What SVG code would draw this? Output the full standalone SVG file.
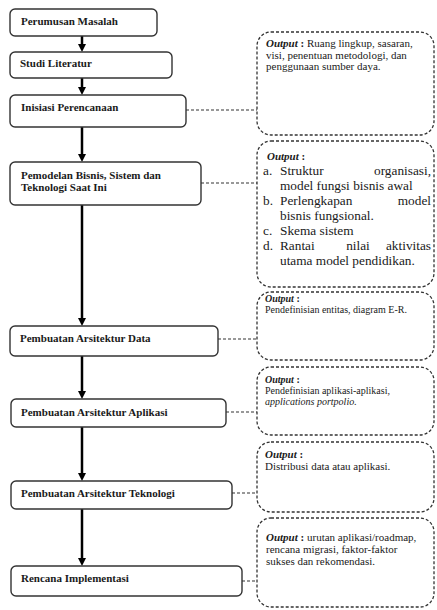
<svg xmlns="http://www.w3.org/2000/svg" width="437" height="610" viewBox="0 0 437 610">
<style>
.step{fill:#fff;stroke:#333;stroke-width:1.4}
.out{fill:#fff;stroke:#333;stroke-width:1.3;stroke-dasharray:3 2}
.lbl{font-family:"Liberation Serif",serif;font-weight:bold;font-size:11px;fill:#1a1a1a}
.txt{font-family:"Liberation Serif",serif;font-size:11px;fill:#1a1a1a}
.sm{font-size:10px}
.lst{font-family:"Liberation Serif",serif;font-size:13.3px;fill:#1a1a1a}
.bi{font-weight:bold;font-style:italic}
.b{font-weight:bold}
.arr{stroke:#000;stroke-width:2.5;fill:none}
.dash{stroke:#333;stroke-width:1.2;stroke-dasharray:3 2;fill:none}
</style>
<defs>
<marker id="ah" viewBox="0 0 8 8" refX="2" refY="4" markerWidth="8" markerHeight="8" markerUnits="userSpaceOnUse" orient="auto">
<path d="M0,0 L8,4 L0,8 z" fill="#000"/>
</marker>
</defs>
<g id="connectors">
<line class="arr" x1="82" y1="36" x2="82" y2="46" marker-end="url(#ah)"/>
<line class="arr" x1="82" y1="78" x2="82" y2="89" marker-end="url(#ah)"/>
<line class="arr" x1="82" y1="127" x2="82" y2="156" marker-end="url(#ah)"/>
<line class="arr" x1="82" y1="205" x2="82" y2="320" marker-end="url(#ah)"/>
<line class="arr" x1="82" y1="356" x2="82" y2="393" marker-end="url(#ah)"/>
<line class="arr" x1="82" y1="427" x2="82" y2="475" marker-end="url(#ah)"/>
<line class="arr" x1="82" y1="509" x2="82" y2="560" marker-end="url(#ah)"/>
<line class="dash" x1="186" y1="110" x2="257" y2="110"/>
<line class="dash" x1="201" y1="183" x2="257" y2="183"/>
<line class="dash" x1="218" y1="339" x2="257" y2="339"/>
<line class="dash" x1="226" y1="412" x2="257" y2="412"/>
<line class="dash" x1="232" y1="493" x2="257" y2="493"/>
<line class="dash" x1="242" y1="581" x2="257" y2="581"/>
</g>
<g id="n1"><rect class="step" x="10" y="9" width="147" height="27" rx="5"/><text class="lbl" x="21" y="25">Perumusan Masalah</text></g>
<g id="n2"><rect class="step" x="10" y="52" width="162" height="26" rx="5"/><text class="lbl" x="20" y="67">Studi Literatur</text></g>
<g id="n3"><rect class="step" x="10" y="95" width="176" height="32" rx="5"/><text class="lbl" x="21" y="111">Inisiasi Perencanaan</text></g>
<g id="n4"><rect class="step" x="10" y="162" width="191" height="43" rx="5"/><text class="lbl" x="21" y="179">Pemodelan Bisnis, Sistem dan</text><text class="lbl" x="21" y="191">Teknologi Saat Ini</text></g>
<g id="n5"><rect class="step" x="10" y="326" width="208" height="30" rx="5"/><text class="lbl" x="20" y="342">Pembuatan Arsitektur Data</text></g>
<g id="n6"><rect class="step" x="11" y="399" width="215" height="28" rx="5"/><text class="lbl" x="21" y="416">Pembuatan Arsitektur Aplikasi</text></g>
<g id="n7"><rect class="step" x="11" y="481" width="221" height="28" rx="5"/><text class="lbl" x="21" y="497">Pembuatan Arsitektur Teknologi</text></g>
<g id="n8"><rect class="step" x="11" y="566" width="231" height="30" rx="5"/><text class="lbl" x="21" y="582">Rencana Implementasi</text></g>
<g id="o1"><rect class="out" x="257" y="32" width="177" height="103" rx="14"/>
<text class="txt" x="266" y="47"><tspan class="bi">Output</tspan><tspan class="b"> :</tspan> Ruang lingkup, sasaran,</text>
<text class="txt" x="266" y="58.5">visi, penentuan metodologi, dan</text>
<text class="txt" x="266" y="70">penggunaan sumber daya.</text></g>
<g id="o2"><rect class="out" x="257" y="141" width="177" height="146" rx="14"/>
<text class="txt" x="267" y="160"><tspan class="bi">Output</tspan><tspan class="b"> :</tspan></text>
<text class="lst" x="263" y="175">a.</text><text class="lst" x="280" y="175">Struktur</text><text class="lst" x="431" y="175" text-anchor="end">organisasi,</text>
<text class="lst" x="280" y="190">model fungsi bisnis awal</text>
<text class="lst" x="263" y="205">b.</text><text class="lst" x="280" y="205">Perlengkapan</text><text class="lst" x="431" y="205" text-anchor="end">model</text>
<text class="lst" x="280" y="220">bisnis fungsional.</text>
<text class="lst" x="263" y="235">c.</text><text class="lst" x="280" y="235">Skema sistem</text>
<text class="lst" x="263" y="250">d.</text><text class="lst" x="280" y="250">Rantai</text><text class="lst" x="358" y="250" text-anchor="middle">nilai</text><text class="lst" x="431" y="250" text-anchor="end">aktivitas</text>
<text class="lst" x="280" y="265">utama model pendidikan.</text></g>
<g id="o3"><rect class="out" x="257" y="292" width="177" height="68" rx="14"/>
<text class="txt sm" x="265" y="302"><tspan class="bi">Output</tspan><tspan class="b"> :</tspan></text>
<text class="txt sm" x="265" y="313">Pendefinisian entitas, diagram E-R.</text></g>
<g id="o4"><rect class="out" x="257" y="367" width="177" height="68" rx="14"/>
<text class="txt sm" x="265" y="383"><tspan class="bi">Output</tspan><tspan class="b"> :</tspan></text>
<text class="txt sm" x="265" y="394">Pendefinisian aplikasi-aplikasi,</text>
<text class="txt sm" x="265" y="405" font-style="italic">applications portpolio.</text></g>
<g id="o5"><rect class="out" x="257" y="442" width="177" height="70" rx="14"/>
<text class="txt" x="265" y="458"><tspan class="bi">Output</tspan><tspan class="b"> :</tspan></text>
<text class="txt" x="265" y="470">Distribusi data atau aplikasi.</text></g>
<g id="o6"><rect class="out" x="257" y="518" width="177" height="89" rx="14"/>
<text class="txt" x="266" y="541"><tspan class="bi">Output</tspan><tspan class="b"> :</tspan> urutan aplikasi/roadmap,</text>
<text class="txt" x="266" y="553">rencana migrasi, faktor-faktor</text>
<text class="txt" x="266" y="565">sukses dan rekomendasi.</text></g>
</svg>
